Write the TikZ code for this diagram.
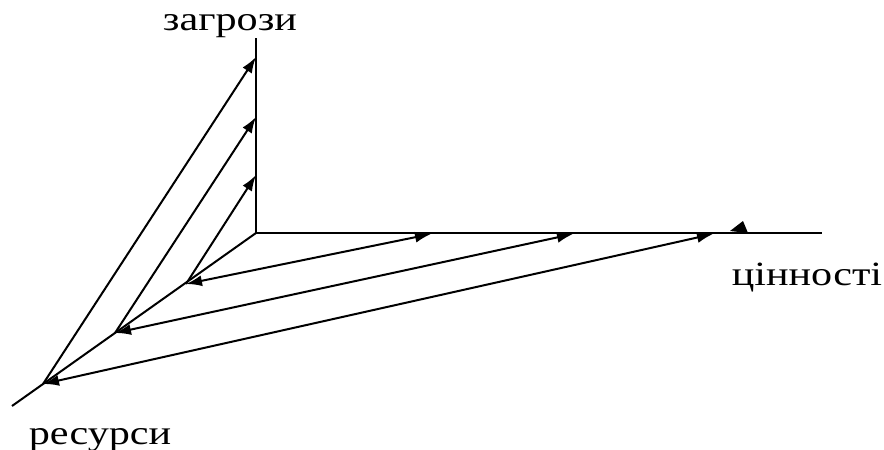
\documentclass[tikz,border=0pt]{standalone}
\usepackage{fontspec}
\setmainfont{Liberation Serif}
\usetikzlibrary{arrows.meta}
\begin{document}
\begin{tikzpicture}[x=1pt,y=-1pt,
  axis/.style={line width=2pt},
  vec/.style={line width=2pt,-{Latex[length=16pt,width=11pt]}},
  bivec/.style={line width=2pt,{Latex[length=16pt,width=11pt]}-{Latex[length=16pt,width=11pt]}},
  lbl/.style={font=\fontsize{34}{40}\selectfont,inner sep=0pt,xscale=1.24,anchor=base}]
\useasboundingbox (0,0) rectangle (884,450);
\coordinate (O) at (256,233);
\coordinate (Tend) at (256,38);
\coordinate (Vend) at (822,233);
\coordinate (Rend) at (12,406);
\coordinate (T1) at (256,175);
\coordinate (T2) at (256,117);
\coordinate (T3) at (256,57);
\coordinate (R1) at (186,284);
\coordinate (R2) at (115,333);
\coordinate (R3) at (43,384);
\coordinate (V1) at (431,234);
\coordinate (V2) at (573,234);
\coordinate (V3) at (713,234);
\draw[axis] (Tend) -- (O) -- (Vend);
\draw[axis] (O) -- (Rend);
\draw[vec] (R1) -- (T1);
\draw[vec] (R2) -- (T2);
\draw[vec] (R3) -- (T3);
\draw[bivec] (R1) -- (V1);
\draw[bivec] (R2) -- (V2);
\draw[bivec] (R3) -- (V3);
\fill (730,231) -- (743,221) -- (748,233) -- cycle;
\node[lbl] (threats) at (230,30) {загрози};
\node[lbl] (values) at (807,285) {цінності};
\node[lbl] (resources) at (100,444) {ресурси};
\end{tikzpicture}
\end{document}
